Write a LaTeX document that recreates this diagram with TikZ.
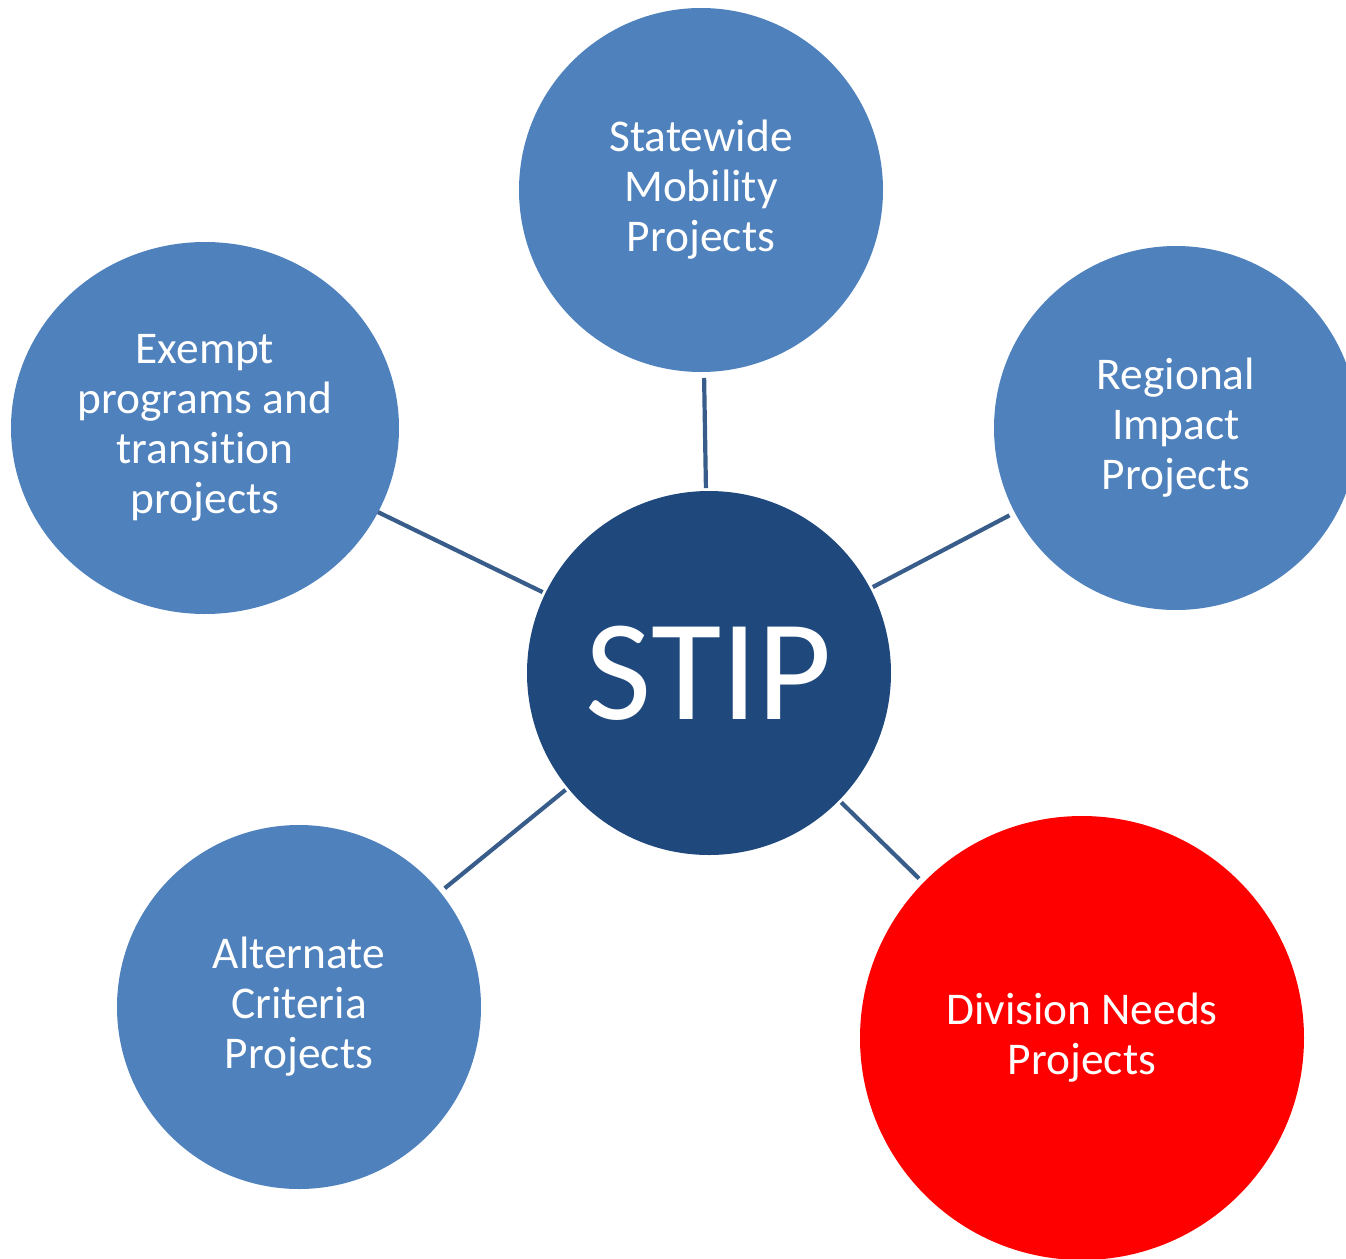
\documentclass[tikz,border=0pt]{standalone}
\usepackage{fontspec}
\setmainfont{Carlito}[Ligatures=NoCommon]
\usepackage{tikz}
\usetikzlibrary{shapes.geometric}
\definecolor{bubbleblue}{HTML}{4F81BD}
\definecolor{stipblue}{HTML}{1F497D}
\definecolor{linkblue}{HTML}{385D8A}
\definecolor{needsred}{HTML}{FF0000}

\begin{document}
\begin{tikzpicture}[x=0.5pt, y=-0.5pt]
			\tikzstyle{bubble} = [circle, fill=bubbleblue, text=white, inner sep=0pt, outer sep=0pt, minimum size=182pt, align=center, font=\fontsize{22.7}{25}\selectfont]
			\tikzstyle{link} = [draw=linkblue, line width=2.1pt, shorten <=3pt, shorten >=1.5pt]
			\useasboundingbox (0,0) rectangle (1346,1259);
			\clip (0,0) rectangle (1346,1259);
			\begin{scope}
			\path

			node[bubble, fill=stipblue, font=\fontsize{72}{80}\selectfont] (stip) at (709,673) {STIP}
			node[bubble] (state) at (701,190) {Statewide\\Mobility\\Projects}
			node[bubble] (region) at (1176,428) {Regional\\Impact\\Projects}
			node[bubble, ellipse, minimum width=194pt, minimum height=186pt] (exempt) at (205,428) {Exempt\\programs and\\transition\\projects}
			node[bubble] (alt) at (299,1007) {Alternate\\Criteria\\Projects}
			node[bubble, fill=needsred, minimum size=222pt] (div) at (1082,1038) {Division Needs\\Projects}

			(state) edge[link] (stip)
			(region) edge[link] (stip)
			(exempt) edge[link, shorten <=0pt] (stip)
			(alt) edge[link] (stip)
			(div) edge[link] (stip)
			;
			\end{scope}

\end{tikzpicture}
\end{document}
